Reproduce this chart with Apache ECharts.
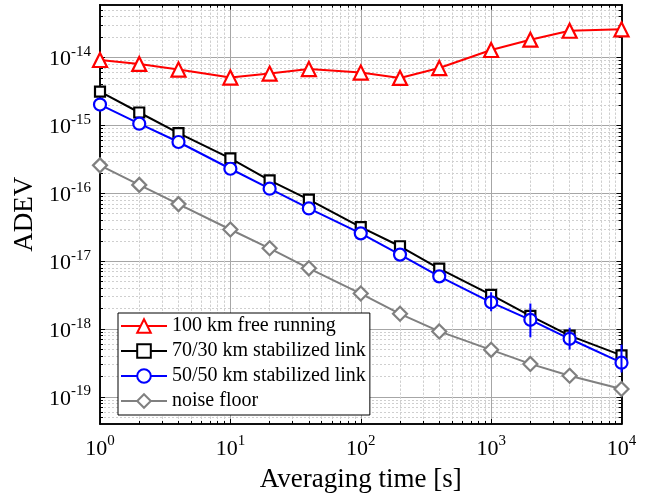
<!DOCTYPE html>
<html><head><meta charset="utf-8">
<script src="https://cdn.jsdelivr.net/npm/echarts@6/dist/echarts.min.js"></script>
<style>html,body{margin:0;padding:0;background:#fff}#c{width:657px;height:497px}</style>
</head><body><div id="c"></div>
<script>
// ---- data ----
const tau = [1, 2, 4, 10, 20, 40, 100, 200, 400, 1000, 2000, 4000, 10000];
const freeRunning = [9.2e-15, 8.05e-15, 6.65e-15, 5.07e-15, 5.8e-15, 6.76e-15, 6.0e-15, 5.0e-15, 7.0e-15, 1.29e-14, 1.83e-14, 2.48e-14, 2.6e-14];
const link7030 = [3.15e-15, 1.55e-15, 7.7e-16, 3.26e-16, 1.55e-16, 8.05e-17, 3.18e-17, 1.66e-17, 7.8e-18, 3.19e-18, 1.57e-18, 8.0e-19, 4.1e-19];
const link5050 = [2.03e-15, 1.06e-15, 5.7e-16, 2.3e-16, 1.17e-16, 5.98e-17, 2.57e-17, 1.25e-17, 5.98e-18, 2.48e-18, 1.37e-18, 7.2e-19, 3.2e-19];
const noiseFloor = [2.58e-16, 1.33e-16, 6.93e-17, 2.93e-17, 1.55e-17, 7.85e-18, 3.34e-18, 1.68e-18, 9.24e-19, 4.95e-19, 3.07e-19, 2.05e-19, 1.31e-19];
const err5050Tau = [1000, 2000, 4000, 10000];
const err5050Lo = [1.83e-18, 7.57e-19, 4.99e-19, 2.3e-19];
const err5050Hi = [3.49e-18, 2.38e-18, 1.05e-18, 5.9e-19];
const seriesNames = ['100 km free running', '70/30 km stabilized link', '50/50 km stabilized link', 'noise floor'];
const xTickExponents = [0, 1, 2, 3, 4];
const yTickExponents = [-19, -18, -17, -16, -15, -14];
const xRange = [1, 1e4];
const yRange = [4e-20, 6e-14];

// ---- helpers ----
const L = Math.log10;
const toPts = (xs, ys) => xs.map((x, i) => [L(x), L(ys[i])]);
function minorTicks(lo, hi) {
  const out = [];
  for (let n = Math.floor(lo) - 1; n <= Math.ceil(hi); n++) {
    for (let k = 2; k <= 9; k++) {
      const v = n + L(k);
      if (v > lo && v < hi) out.push(v);
    }
  }
  return out;
}
const xMin = L(xRange[0]), xMax = L(xRange[1]);
const yMin = L(yRange[0]), yMax = L(yRange[1]);
const xMinor = minorTicks(xMin, xMax);
const yMinor = minorTicks(yMin, yMax);
const FONT = 'Liberation Serif';
const rich = {
  b: { fontFamily: FONT, fontSize: 22, color: '#000', lineHeight: 26, verticalAlign: 'bottom' },
  s: { fontFamily: FONT, fontSize: 15, color: '#000', lineHeight: 15, verticalAlign: 'top' }
};
const fmt = v => '{b|10}{s|' + Math.round(v) + '}';
const majorGrid = { show: true, lineStyle: { color: '#a6a6a6', width: 1, type: 'solid' } };
const minorGrid = { show: true, lineStyle: { color: '#cfcfcf', width: 1, type: [2, 2] } };
const frame = { show: true, onZero: false, lineStyle: { color: '#000', width: 1.5 } };

function mkX(pos, major, withLabels) {
  return {
    type: 'value', position: pos, min: xMin, max: xMax,
    axisLine: frame,
    axisTick: { show: true, inside: true, length: major ? 5 : 3, customValues: major ? xTickExponents : xMinor, lineStyle: { color: '#000', width: 1 } },
    axisLabel: withLabels ? { show: true, customValues: xTickExponents, formatter: fmt, rich: rich, margin: 10 } : { show: false },
    splitLine: major ? majorGrid : minorGrid,
    name: withLabels ? 'Averaging time [s]' : '',
    nameLocation: 'middle', nameGap: 42,
    nameTextStyle: { fontFamily: FONT, fontSize: 27, color: '#000' }
  };
}
function mkY(pos, major, withLabels) {
  return {
    type: 'value', position: pos, min: yMin, max: yMax,
    axisLine: frame,
    axisTick: { show: true, inside: true, length: major ? 5 : 3, customValues: major ? yTickExponents : yMinor, lineStyle: { color: '#000', width: 1 } },
    axisLabel: withLabels ? { show: true, customValues: yTickExponents, formatter: fmt, rich: rich, margin: 9 } : { show: false },
    splitLine: major ? majorGrid : minorGrid,
    name: withLabels ? 'ADEV' : '',
    nameLocation: 'middle', nameGap: 56, nameRotate: 90,
    nameTextStyle: { fontFamily: FONT, fontSize: 27, color: '#000' }
  };
}

const symStyle = (c) => ({ color: '#fff', borderColor: c, borderWidth: 2.2 });
function lineSeries(name, ys, color, symbol, size) {
  return {
    name: name, type: 'line', xAxisIndex: 0, yAxisIndex: 0,
    data: toPts(tau, ys),
    symbol: symbol, symbolSize: size, showAllSymbol: true,
    lineStyle: { color: color, width: 2 },
    itemStyle: symStyle(color),
    z: 3
  };
}

const errData = err5050Tau.map((t, i) => [L(t), L(err5050Lo[i]), L(err5050Hi[i])]);

const option = {
  animation: false,
  backgroundColor: '#fff',
  grid: { left: 100, right: 35.5, top: 4.7, bottom: 73, outerBoundsMode: 'none', containLabel: false },
  xAxis: [mkX('bottom', true, true), mkX('top', true, false), mkX('bottom', false, false), mkX('top', false, false)],
  yAxis: [mkY('left', true, true), mkY('right', true, false), mkY('left', false, false), mkY('right', false, false)],
  legend: {
    show: true, orient: 'vertical', left: 118, top: 313,
    data: seriesNames,
    itemWidth: 46, itemHeight: 17, itemGap: 5,
    padding: [3, 4, 4, 2],
    backgroundColor: '#fff', borderColor: '#000', borderWidth: 1, borderRadius: 0,
    textStyle: { fontFamily: FONT, fontSize: 20, color: '#000' },
    z: 10
  },
  series: [
    lineSeries(seriesNames[0], freeRunning, '#ff0000', 'triangle', 14),
    lineSeries(seriesNames[1], link7030, '#000000', 'rect', 10),
    lineSeries(seriesNames[2], link5050, '#0000ff', 'circle', 12),
    lineSeries(seriesNames[3], noiseFloor, '#808080', 'diamond', 14),
    {
      type: 'custom', xAxisIndex: 0, yAxisIndex: 0, z: 4, silent: true,
      data: errData,
      renderItem: function (params, api) {
        const a = api.coord([api.value(0), api.value(1)]);
        const b = api.coord([api.value(0), api.value(2)]);
        return { type: 'line', shape: { x1: a[0], y1: a[1], x2: b[0], y2: b[1] }, style: { stroke: '#0000ff', lineWidth: 2 } };
      }
    }
  ]
};
const chart = echarts.init(document.getElementById('c'), null, { renderer: 'canvas' });
chart.setOption(option);
</script>
</body></html>
